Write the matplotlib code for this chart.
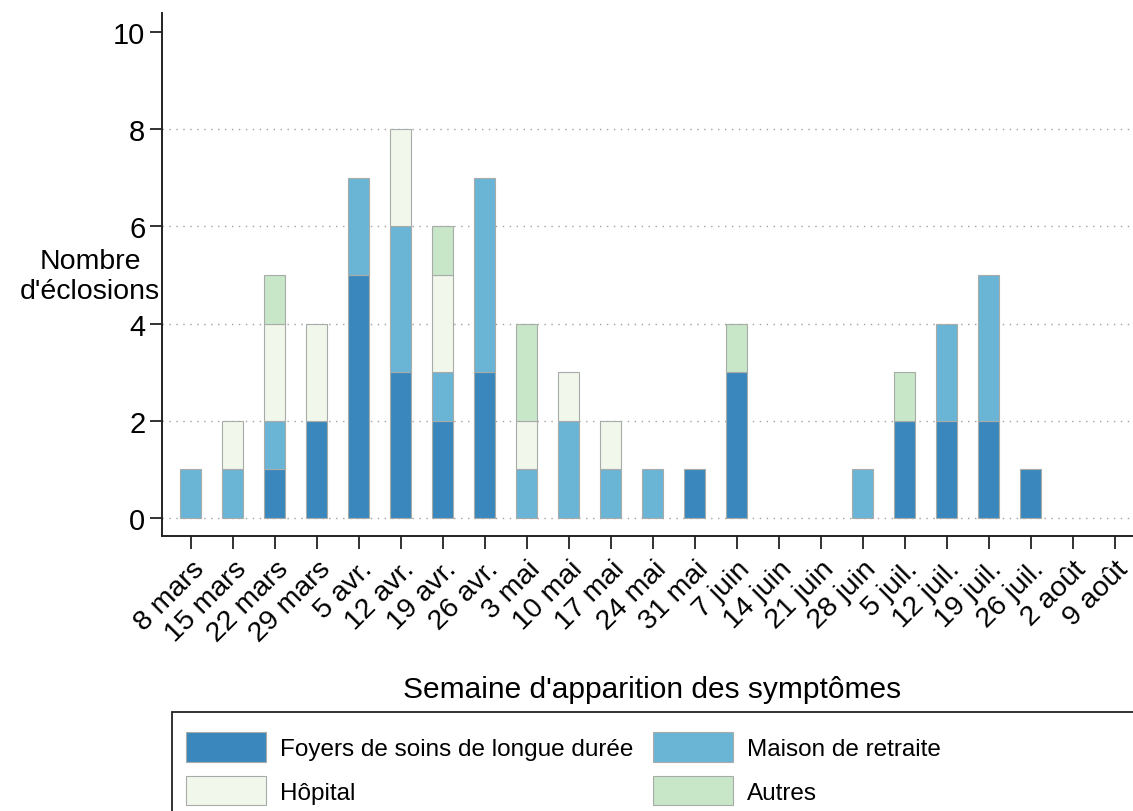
import numpy as np
import matplotlib
matplotlib.use("Agg")
import matplotlib.pyplot as plt
from matplotlib.patches import Rectangle

plt.rcParams['font.family'] = ['Liberation Sans', 'DejaVu Sans']

weeks = ['8 mars', '15 mars', '22 mars', '29 mars', '5 avr.', '12 avr.', '19 avr.',
         '26 avr.', '3 mai', '10 mai', '17 mai', '24 mai', '31 mai', '7 juin',
         '14 juin', '21 juin', '28 juin', '5 juil.', '12 juil.', '19 juil.',
         '26 juil.', '2 août', '9 août']

foyers = [0, 0, 1, 2, 5, 3, 2, 3, 0, 0, 0, 0, 1, 3, 0, 0, 0, 2, 2, 2, 1, 0, 0]
maison = [1, 1, 1, 0, 2, 3, 1, 4, 1, 2, 1, 1, 0, 0, 0, 0, 1, 0, 2, 3, 0, 0, 0]
hopital = [0, 1, 2, 2, 0, 2, 2, 0, 1, 1, 1, 0, 0, 0, 0, 0, 0, 0, 0, 0, 0, 0, 0]
autres = [0, 0, 1, 0, 0, 0, 1, 0, 2, 0, 0, 0, 0, 1, 0, 0, 0, 1, 0, 0, 0, 0, 0]

series = [
    ('Foyers de soins de longue durée', foyers, '#3a87bd'),
    ('Maison de retraite', maison, '#6ab4d6'),
    ('Hôpital', hopital, '#f2f7ec'),
    ('Autres', autres, '#c8e6c8'),
]

fig = plt.figure(figsize=(11.33, 8.12), dpi=100)
ax = fig.add_axes([0.143, 0.3387, 0.857, 0.644])

x = np.arange(len(weeks))
bottom = np.zeros(len(weeks))
handles = {}
for label, vals, color in series:
    vals = np.array(vals, dtype=float)
    keep = vals > 0
    bars = ax.bar(x[keep], vals[keep], width=0.5, bottom=bottom[keep], color=color,
                  edgecolor='#a8aca8', linewidth=0.8, label=label, zorder=3)
    handles[label] = bars
    bottom += vals

for yv in [0, 2, 4, 6, 8]:
    ax.axhline(yv, color='#a0a0a0', linestyle=(0, (1, 4)), linewidth=1.0, zorder=1)

ax.set_xlim(-0.69, 22.43)
ax.set_ylim(-0.37, 10.39)
ax.set_yticks([0, 2, 4, 6, 8, 10])
ax.set_xticks(x)
ax.set_xticklabels(weeks, rotation=45, ha='right', rotation_mode='anchor')
ax.tick_params(axis='both', length=9, width=1.3, color='#222222')
ax.tick_params(axis='y', labelsize=21, pad=3)
ax.tick_params(axis='x', labelsize=20.5, pad=5)

for side in ['top', 'right']:
    ax.spines[side].set_visible(False)
for side in ['left', 'bottom']:
    ax.spines[side].set_linewidth(1.4)
    ax.spines[side].set_color('#222222')

ax.set_ylabel("Nombre\nd'éclosions", rotation=0, fontsize=20.5, ha='center', va='center',
              linespacing=1.2)
ax.yaxis.set_label_coords(-0.074, 0.497)
ax.set_xlabel("Semaine d'apparition des symptômes", fontsize=21.5)
ax.xaxis.set_label_coords(0.505, -0.266)

# legend, filled row by row (matplotlib fills by column)
order = ['Foyers de soins de longue durée', 'Hôpital', 'Maison de retraite', 'Autres']
leg = fig.legend([handles[k] for k in order], order, ncol=2, loc='upper left',
                 bbox_to_anchor=(186 / 1133, 1 - 733 / 812), frameon=False,
                 fontsize=17.5, handlelength=3.3, handleheight=1.5, handletextpad=0.58,
                 borderaxespad=0.0, borderpad=0.0, labelspacing=0.58, columnspacing=0.78)

fig.patches.append(Rectangle((172 / 1133, -0.02), 1.0, (812 - 713) / 812 + 0.02,
                             transform=fig.transFigure, fill=False,
                             edgecolor='#222222', linewidth=1.3))

fig.savefig('out.png', dpi=100)
